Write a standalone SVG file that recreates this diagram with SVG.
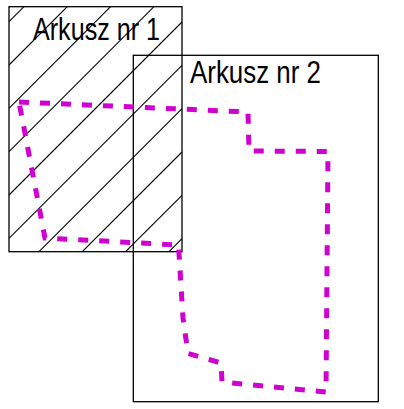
<svg xmlns="http://www.w3.org/2000/svg" width="404" height="409" viewBox="0 0 404 409">
<style>
.frame{fill:none;stroke:#000;stroke-width:1.3}
.hatch{stroke:#000;stroke-width:1.1}
.lbl{font-family:"Liberation Sans",Arial,sans-serif;font-size:32px;fill:#000}
.bound{fill:none;stroke:#D000D0;stroke-width:5;stroke-dasharray:10 11;stroke-linejoin:miter}
</style>
<rect width="404" height="409" fill="#fff"/>
<g id="arkusz1">
<g class="hatch">
<line x1="9" y1="21.7" x2="24" y2="6.7"/>
<line x1="9" y1="65" x2="67.3" y2="6.7"/>
<line x1="9" y1="108.3" x2="110.6" y2="6.7"/>
<line x1="9" y1="151.7" x2="154" y2="6.7"/>
<line x1="9" y1="195" x2="182" y2="22"/>
<line x1="9" y1="238.3" x2="182" y2="65.3"/>
<line x1="39" y1="251.7" x2="182" y2="108.7"/>
<line x1="82.3" y1="251.7" x2="182" y2="152"/>
<line x1="125.6" y1="251.7" x2="182" y2="195.3"/>
<line x1="169" y1="251.7" x2="182" y2="238.7"/>
</g>
<rect class="frame" x="9" y="6.7" width="173" height="245"/>
<text class="lbl" x="33" y="40" textLength="127" lengthAdjust="spacingAndGlyphs">Arkusz nr 1</text>
</g>
<g id="arkusz2">
<rect class="frame" x="133.3" y="55.3" width="245" height="346.4"/>
<text class="lbl" x="190" y="83.3" textLength="131" lengthAdjust="spacingAndGlyphs">Arkusz nr 2</text>
</g>
<g id="granica">
<polygon class="bound" points="19,102 248,112 249,151 328,151.5 326,392 222,382 221,363 188,353.5 183,318 178.5,245 45,238"/>
</g>
</svg>
